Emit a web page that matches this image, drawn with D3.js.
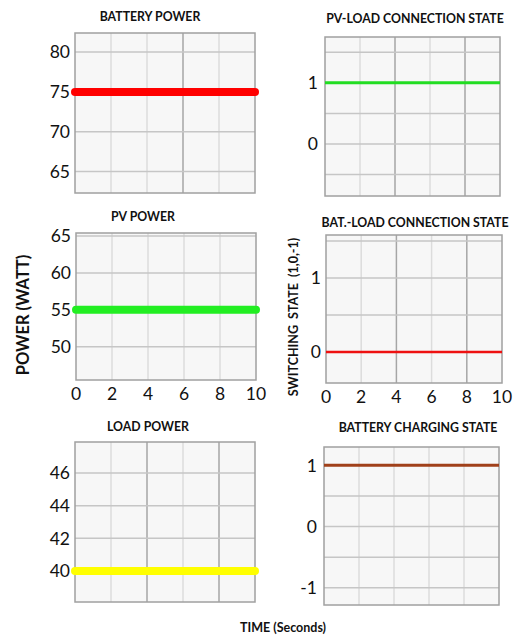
<!DOCTYPE html>
<html>
<head>
<meta charset="utf-8">
<script src="https://cdn.jsdelivr.net/npm/d3@7"></script>
<style>
  body { margin: 0; background: #fff; }
  text { font-family: Lato, "Open Sans", sans-serif; fill: #111; }
</style>
</head>
<body>
<div id="chart"></div>
<script>
// time axis (seconds) and the recorded values
var timeS = [0, 2, 4, 6, 8, 10];
var batteryPower = [75, 75, 75, 75, 75, 75];
var pvPower = [55, 55, 55, 55, 55, 55];
var loadPower = [40, 40, 40, 40, 40, 40];
var pvLoadState = [1, 1, 1, 1, 1, 1];
var batLoadState = [0, 0, 0, 0, 0, 0];
var chargingState = [1, 1, 1, 1, 1, 1];

// tick labels
var xTickLabels = [0, 2, 4, 6, 8, 10];
var batteryTicks = [65, 70, 75, 80];
var pvTicks = [50, 55, 60, 65];
var loadTicks = [40, 42, 44, 46];
var pvLoadTicks = [0, 1];
var batLoadTicks = [0, 1];
var chargingTicks = [-1, 0, 1];

var svgWidth = 517;
var svgHeight = 639;

var svg = d3.select("#chart")
  .append("svg")
  .attr("width", svgWidth)
  .attr("height", svgHeight);

// one entry per small plot; layout only
var panels = [
  { title: "BATTERY POWER", tx: 150, ty: 21, left: 75, right: 255, top: 33, bottom: 193,
    domain: [62.3, 82.4], ticks: batteryTicks, gridY: [65, 70, 75, 80], values: batteryPower,
    color: "#ff0000", lw: 8, thick: true, darkX: [6], xLabels: false, tickGap: 5 },
  { title: "PV-LOAD CONNECTION STATE", tx: 415, ty: 23, left: 325, right: 500, top: 37, bottom: 196,
    domain: [-0.85, 1.75], ticks: pvLoadTicks, gridY: [-0.5, 0, 0.5, 1, 1.5], values: pvLoadState,
    color: "#22dd22", lw: 3, thick: false, darkX: [4, 8], xLabels: false, tickGap: 7 },
  { title: "PV POWER", tx: 143, ty: 221, left: 76, right: 256, top: 233, bottom: 380,
    domain: [45.5, 65.4], ticks: pvTicks, gridY: [50, 55, 60, 65], values: pvPower,
    color: "#22ee22", lw: 8, thick: true, darkX: [], xLabels: true, tickGap: 5 },
  { title: "BAT.-LOAD CONNECTION STATE", tx: 415, ty: 227, left: 326, right: 502, top: 235, bottom: 383,
    domain: [-0.42, 1.58], ticks: batLoadTicks, gridY: [0, 0.5, 1, 1.5], values: batLoadState,
    color: "#ee1111", lw: 2.5, thick: false, darkX: [4, 8], xLabels: true, tickGap: 5 },
  { title: "LOAD POWER", tx: 148, ty: 431, left: 75, right: 255, top: 442, bottom: 602,
    domain: [38.1, 47.9], ticks: loadTicks, gridY: [40, 42, 44, 46], values: loadPower,
    color: "#ffff00", lw: 8, thick: true, darkX: [4, 8], xLabels: false, tickGap: 5 },
  { title: "BATTERY CHARGING STATE", tx: 418, ty: 432, left: 324, right: 499, top: 447, bottom: 605,
    domain: [-1.28, 1.3], ticks: chargingTicks, gridY: [-1, -0.5, 0, 0.5, 1], values: chargingState,
    color: "#a0401a", lw: 3, thick: false, darkX: [], xLabels: false, tickGap: 7 }
];

panels.forEach(function(p) {
  var x = d3.scaleLinear().domain([0, 10]).range([p.left, p.right]);
  var y = d3.scaleLinear().domain(p.domain).range([p.bottom, p.top]);
  var g = svg.append("g");

  // plot background
  g.append("rect")
    .attr("x", p.left).attr("y", p.top)
    .attr("width", p.right - p.left).attr("height", p.bottom - p.top)
    .attr("fill", "#f7f7f7");

  // vertical grid
  g.selectAll(".vgrid")
    .data(xTickLabels.slice(1, -1))
    .enter()
    .append("line")
    .attr("x1", d => x(d)).attr("x2", d => x(d))
    .attr("y1", p.top).attr("y2", p.bottom)
    .attr("stroke", d => p.darkX.indexOf(d) >= 0 ? "#a6a6a6" : "#dcdcdc")
    .attr("stroke-width", 1.5);

  // horizontal grid
  g.selectAll(".hgrid")
    .data(p.gridY)
    .enter()
    .append("line")
    .attr("x1", p.left).attr("x2", p.right)
    .attr("y1", d => y(d)).attr("y2", d => y(d))
    .attr("stroke", "#c6c6c6")
    .attr("stroke-width", 1.5);

  // frame
  g.append("rect")
    .attr("x", p.left).attr("y", p.top)
    .attr("width", p.right - p.left).attr("height", p.bottom - p.top)
    .attr("fill", "none")
    .attr("stroke", "#a0a0a0")
    .attr("stroke-width", 1.5);

  // y tick labels
  g.selectAll(".ytick")
    .data(p.ticks)
    .enter()
    .append("text")
    .attr("x", p.left - p.tickGap)
    .attr("y", d => y(d))
    .attr("dy", "0.36em")
    .attr("text-anchor", "end")
    .attr("font-size", "17.5px")
    .text(d => d);

  // x tick labels
  if (p.xLabels) {
    g.selectAll(".xtick")
      .data(xTickLabels)
      .enter()
      .append("text")
      .attr("x", d => x(d))
      .attr("y", p.bottom + 20)
      .attr("text-anchor", "middle")
      .attr("font-size", "17.5px")
      .text(d => d);
  }

  // title
  g.append("text")
    .attr("x", p.tx).attr("y", p.ty)
    .attr("text-anchor", "middle")
    .attr("font-size", "12.3px")
    .attr("font-weight", "bold")
    .text(p.title);

  // the signal
  var line = d3.line()
    .x((d, i) => x(timeS[i]))
    .y(d => y(d));
  g.append("path")
    .datum(p.values)
    .attr("d", line)
    .attr("fill", "none")
    .attr("stroke", p.color)
    .attr("stroke-width", p.lw)
    .attr("stroke-linecap", p.thick ? "round" : "butt");
});

// shared axis labels
svg.append("text")
  .attr("transform", "translate(29, 315) rotate(-90)")
  .attr("text-anchor", "middle")
  .attr("font-size", "16.5px")
  .attr("font-weight", "bold")
  .text("POWER (WATT)");

svg.append("text")
  .attr("transform", "translate(298, 317) rotate(-90)")
  .attr("text-anchor", "middle")
  .attr("font-size", "12.5px")
  .attr("font-weight", "bold")
  .style("white-space", "pre")
  .text("SWITCHING  STATE  (1,0,-1)");

svg.append("text")
  .attr("x", 283).attr("y", 632)
  .attr("text-anchor", "middle")
  .attr("font-size", "12.5px")
  .attr("font-weight", "bold")
  .text("TIME (Seconds)");
</script>
</body>
</html>
